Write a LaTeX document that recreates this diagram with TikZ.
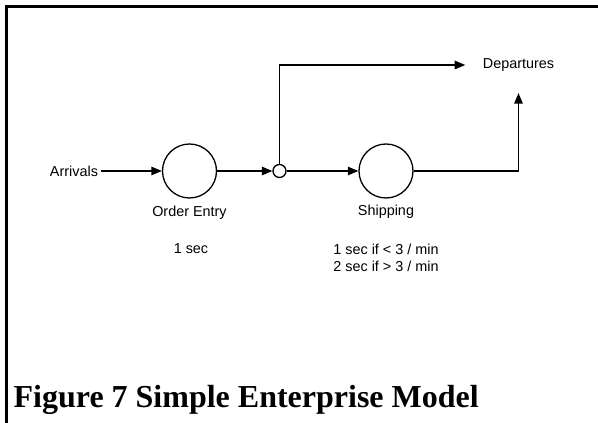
\documentclass[tikz,border=0pt]{standalone}
\usepackage{fontspec}
\setmainfont{Liberation Serif}
\setsansfont{Liberation Sans}
\usetikzlibrary{arrows.meta}
\tikzset{stn/.style={draw,circle,line width=1.3pt,minimum size=54pt,inner sep=0pt},
  jn/.style={draw,circle,fill=white,line width=1.3pt,minimum size=13pt,inner sep=0pt},
  lbl/.style={font=\sffamily\fontsize{14.4}{17.5}\selectfont,align=center,inner sep=2pt}}
\begin{document}
\begin{tikzpicture}[>={Triangle[length=10.5pt,width=8.5pt]},x=1pt,y=1pt,line width=1.3pt]
\useasboundingbox (0,0) rectangle (598,423);
\draw[line width=2.3pt] (6.5,0)--(6.5,416.5)--(598,416.5);
\node[lbl] (arr) at (74,252){Arrivals};
\node[stn] (oe) at (189.5,252){};\node[jn] (j) at (279.5,252){};\node[stn] (sh) at (386,252){};
\node[lbl] (dep) at (518.5,358){Departures};
\coordinate (crn) at (518.5,252);
\draw[->] (arr)--(oe);\draw[->] (oe)--(j);\draw[->] (j)--(sh);
\draw[->,shorten >=15pt] (j)|-(dep);
\draw[->,shorten >=19pt] (sh)--(crn)--(dep);
\node[lbl] (oel) at (189.5,210){Order Entry};\node[lbl] (oet) at (191,174){1 sec};
\node[lbl] (shl) at (386,211){Shipping};
\node[lbl,anchor=north] (sht) at (386,182){1 sec if < 3 / min\\2 sec if > 3 / min};
\node[anchor=base west,inner sep=0pt,font=\bfseries\fontsize{32}{38}\selectfont] (cap) at (13,15){Figure 7 Simple Enterprise Model};
\end{tikzpicture}
\end{document}
